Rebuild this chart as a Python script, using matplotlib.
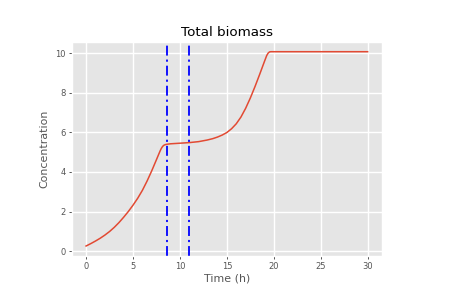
import matplotlib
matplotlib.use("Agg")
import matplotlib.pyplot as plt

plt.style.use("ggplot")

# Data
time_h = [0.0, 0.5, 1.0, 1.5, 2.0, 2.5, 3.0, 3.5, 4.0, 4.5, 5.0, 5.5, 6.0, 6.5, 7.0,
          7.5, 7.8, 7.9, 8.0, 8.1, 8.2, 8.3, 8.45, 8.65, 9.0, 10.0, 11.0, 12.0, 12.9,
          13.5, 14.0, 14.5, 15.0, 15.5, 16.0, 16.5, 17.0, 17.5, 18.0, 18.5, 19.0,
          19.25, 19.4, 19.55, 19.7, 20.0, 25.0, 30.0]
biomass = [0.26, 0.38, 0.51, 0.65, 0.81, 0.99, 1.20, 1.44, 1.71, 2.00, 2.32, 2.67, 3.07,
           3.54, 4.06, 4.62, 4.96, 5.07, 5.17, 5.25, 5.31, 5.35, 5.38, 5.40, 5.42, 5.45,
           5.48, 5.53, 5.61, 5.68, 5.76, 5.86, 5.99, 6.18, 6.43, 6.77, 7.21, 7.73, 8.31,
           8.93, 9.57, 9.88, 10.00, 10.06, 10.07, 10.07, 10.07, 10.07]
vlines_x = [8.65, 11.0]
title = "Total biomass"
xlabel = "Time (h)"
ylabel = "Concentration"

fig = plt.figure(figsize=(4.54, 2.92), dpi=100)
ax = fig.add_axes([72 / 454, (292 - 255.5) / 292, (381.7 - 72) / 454, (255.5 - 42) / 292])

ax.plot(time_h, biomass, color="#E24A33", lw=1.1)
for xv in vlines_x:
    ax.axvline(xv, color="#0000ff", lw=1.3, linestyle=(0, (5.5, 2.2, 1.2, 2.2)))

ax.set_ylim(-0.22, 10.56)
ax.set_xlim(-1.5, 31.5)
ax.set_xticks([0, 5, 10, 15, 20, 25, 30])
ax.set_yticks([0, 2, 4, 6, 8, 10])
ax.tick_params(labelsize=6, length=2.5, width=0.7, pad=2, colors="#555555")
ax.grid(True, color="white", lw=1.0)
ax.set_title(title, fontsize=9.7, color="black", pad=4)
ax.set_xlabel(xlabel, fontsize=7.9, color="#555555", labelpad=2)
ax.set_ylabel(ylabel, fontsize=7.9, color="#555555", labelpad=4)

fig.savefig("out.png", dpi=100)
